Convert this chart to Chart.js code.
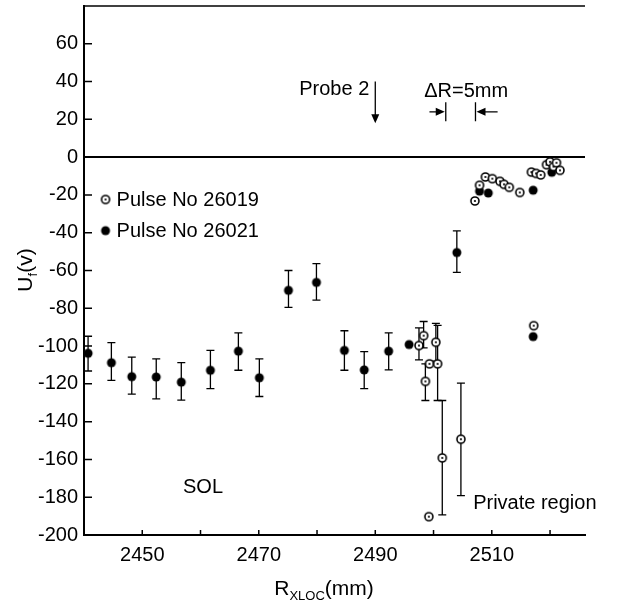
<!DOCTYPE html>
<html>
<head>
<meta charset="utf-8">
<title>Floating potential profile</title>
<script src="https://cdn.jsdelivr.net/npm/chart.js@4.4.0/dist/chart.umd.min.js"></script>
<style>
  html, body { margin: 0; padding: 0; background: #fff; }
</style>
</head>
<body>
<canvas id="potentialChart" width="618" height="601"></canvas>
<script>
// Pulse No 26019 (open markers)
const pulse26019R = [2497.5, 2498.3, 2498.6, 2499.3, 2500.4, 2500.7, 2501.5, 2504.7, 2499.2, 2517.2,
                     2507.1, 2507.9, 2508.9, 2510.1, 2511.4, 2512.1, 2513.0, 2514.8, 2516.8, 2517.6,
                     2518.4, 2519.4, 2520.0, 2520.6, 2521.1, 2521.7];
const pulse26019U = [-99.7, -94.5, -118.7, -109.4, -98.0, -109.4, -159.2, -149.3, -190.3, -89.2,
                     -23.2, -14.9, -10.5, -11.4, -12.8, -14.4, -16.0, -18.7, -7.9, -8.6,
                     -9.4, -4.0, -2.5, -5.0, -3.0, -7.0];
const pulse26019Hi = [-90.4, -87, -109.4, null, -88, -89, -128.8, -119.6, null, null,
                      null, null, null, null, null, null, null, null, null, null,
                      null, null, null, null, null, null];
const pulse26019Lo = [-107.3, -101, -128.8, null, -108, -128.8, -189.4, -179.2, null, null,
                      null, null, null, null, null, null, null, null, null, null,
                      null, null, null, null, null, null];

// Pulse No 26021 (filled markers)
const pulse26021R = [2440.7, 2444.7, 2448.2, 2452.4, 2456.7, 2461.7, 2466.5, 2470.1, 2475.1, 2479.9,
                     2484.7, 2488.1, 2492.3, 2495.8, 2504.0, 2507.9, 2509.4, 2517.1, 2517.1, 2520.3];
const pulse26021U = [-103.8, -108.8, -116.2, -116.4, -119.1, -112.8, -102.7, -116.8, -70.5, -66.3,
                     -102.3, -112.6, -102.7, -99.2, -50.5, -18.0, -19.0, -95.0, -17.5, -8.0];
const pulse26021Hi = [-94.8, -98.2, -105.9, -106.8, -108.8, -102.3, -93.0, -106.8, -60.0, -56.4,
                      -91.9, -102.9, -93.0, null, -39.0, null, null, null, null, null];
const pulse26021Lo = [-113.2, -118.2, -125.4, -127.9, -128.6, -122.5, -112.8, -126.7, -79.5, -75.7,
                      -112.8, -122.5, -112.6, null, -61.0, null, null, null, null, null];

// axis ticks
const xLabelTicks = [2450, 2470, 2490, 2510];
const yTickMax = 60;

const FONT = '"Liberation Sans", Arial, Helvetica, sans-serif';

// small canvases used as point markers
function makeMarker(filled) {
  const c = document.createElement('canvas');
  c.width = 12; c.height = 12;
  const g = c.getContext('2d');
  g.beginPath();
  g.arc(6, 6, filled ? 4.5 : 4, 0, Math.PI * 2);
  if (filled) {
    g.fillStyle = '#000';
    g.fill();
  } else {
    g.fillStyle = '#fff';
    g.fill();
    g.lineWidth = 1.6;
    g.strokeStyle = '#000';
    g.stroke();
    g.beginPath();
    g.arc(6, 6, 1.1, 0, Math.PI * 2);
    g.fillStyle = '#000';
    g.fill();
  }
  return c;
}
const openMarker = makeMarker(false);
const filledMarker = makeMarker(true);

function toPoints(xs, ys) {
  return xs.map((x, i) => ({ x: x, y: ys[i] }));
}

// text with a subscript part: [main, sub, rest]
function drawSubText(ctx, parts, x, y, size, subSize, align) {
  ctx.font = size + 'px ' + FONT;
  const w0 = ctx.measureText(parts[0]).width;
  const w2 = ctx.measureText(parts[2]).width;
  ctx.font = subSize + 'px ' + FONT;
  const w1 = ctx.measureText(parts[1]).width;
  const total = w0 + w1 + w2;
  let start = align === 'center' ? x - total / 2 : x;
  ctx.textAlign = 'left';
  ctx.textBaseline = 'alphabetic';
  ctx.font = size + 'px ' + FONT;
  ctx.fillText(parts[0], start, y);
  ctx.font = subSize + 'px ' + FONT;
  ctx.fillText(parts[1], start + w0, y + 5);
  ctx.font = size + 'px ' + FONT;
  ctx.fillText(parts[2], start + w0 + w1, y);
}

function arrowHead(ctx, x, y, dir) {
  // dir: 'down', 'left', 'right'
  ctx.beginPath();
  if (dir === 'down') {
    ctx.moveTo(x, y); ctx.lineTo(x - 4, y - 9); ctx.lineTo(x + 4, y - 9);
  } else if (dir === 'right') {
    ctx.moveTo(x, y); ctx.lineTo(x - 9, y - 4); ctx.lineTo(x - 9, y + 4);
  } else {
    ctx.moveTo(x, y); ctx.lineTo(x + 9, y - 4); ctx.lineTo(x + 9, y + 4);
  }
  ctx.closePath();
  ctx.fill();
}

const figureExtras = {
  id: 'figureExtras',
  beforeDatasetsDraw(chart) {
    const ctx = chart.ctx;
    const xs = chart.scales.x, ys = chart.scales.y;
    ctx.save();
    ctx.strokeStyle = '#000';
    ctx.lineWidth = 1.3;
    chart.data.datasets.forEach(ds => {
      ds.data.forEach((p, i) => {
        const hi = ds.errHigh[i], lo = ds.errLow[i];
        if (hi === null || lo === null) return;
        const px = xs.getPixelForValue(p.x);
        const yHi = ys.getPixelForValue(hi);
        const yLo = ys.getPixelForValue(lo);
        ctx.beginPath();
        ctx.moveTo(px, yHi); ctx.lineTo(px, yLo);
        ctx.moveTo(px - 4, yHi); ctx.lineTo(px + 4, yHi);
        ctx.moveTo(px - 4, yLo); ctx.lineTo(px + 4, yLo);
        ctx.stroke();
      });
    });
    ctx.restore();
  },
  afterDraw(chart) {
    const ctx = chart.ctx;
    const area = chart.chartArea;
    const xs = chart.scales.x, ys = chart.scales.y;
    ctx.save();
    ctx.strokeStyle = '#000';
    ctx.fillStyle = '#000';

    // frame line along the top
    ctx.lineWidth = 1.5;
    ctx.beginPath();
    ctx.moveTo(area.left, area.top);
    ctx.lineTo(area.right, area.top);
    ctx.stroke();

    // inward tick marks
    ctx.lineWidth = 1.5;
    ctx.beginPath();
    for (let v = -200; v <= yTickMax; v += 20) {
      const py = ys.getPixelForValue(v);
      ctx.moveTo(area.left, py);
      ctx.lineTo(area.left + 8, py);
    }
    for (let v = 2450; v <= 2520; v += 10) {
      const px = xs.getPixelForValue(v);
      ctx.moveTo(px, area.bottom);
      ctx.lineTo(px, area.bottom - 5);
    }
    ctx.stroke();

    // Probe 2 marker
    const probeX = xs.getPixelForValue(2490);
    ctx.font = '20px ' + FONT;
    ctx.textAlign = 'right';
    ctx.textBaseline = 'alphabetic';
    ctx.fillText('Probe 2', probeX - 6, ys.getPixelForValue(33));
    ctx.lineWidth = 1.3;
    ctx.beginPath();
    ctx.moveTo(probeX, ys.getPixelForValue(40));
    ctx.lineTo(probeX, ys.getPixelForValue(20));
    ctx.stroke();
    arrowHead(ctx, probeX, ys.getPixelForValue(18), 'down');

    // ΔR=5mm gap
    ctx.textAlign = 'center';
    ctx.fillText('ΔR=5mm', xs.getPixelForValue(2505.6), ys.getPixelForValue(32));
    const arrowY = ys.getPixelForValue(24);
    const barA = xs.getPixelForValue(2502.1), barB = xs.getPixelForValue(2507.2);
    ctx.beginPath();
    ctx.moveTo(barA, ys.getPixelForValue(29)); ctx.lineTo(barA, ys.getPixelForValue(19));
    ctx.moveTo(barB, ys.getPixelForValue(29)); ctx.lineTo(barB, ys.getPixelForValue(19));
    ctx.moveTo(xs.getPixelForValue(2499.3), arrowY); ctx.lineTo(barA - 6, arrowY);
    ctx.moveTo(xs.getPixelForValue(2511), arrowY); ctx.lineTo(barB + 6, arrowY);
    ctx.stroke();
    arrowHead(ctx, barA - 1, arrowY, 'right');
    arrowHead(ctx, barB + 1, arrowY, 'left');

    // region labels
    ctx.textAlign = 'left';
    ctx.fillText('SOL', xs.getPixelForValue(2457), ys.getPixelForValue(-178));
    ctx.fillText('Private region', xs.getPixelForValue(2506.8), ys.getPixelForValue(-186));

    // legend
    const legendX = xs.getPixelForValue(2443.7);
    [[openMarker, 'Pulse No 26019', -22.4], [filledMarker, 'Pulse No 26021', -38.9]].forEach(row => {
      const py = ys.getPixelForValue(row[2]);
      ctx.drawImage(row[0], legendX - 6, py - 6);
      ctx.textBaseline = 'middle';
      ctx.fillText(row[1], legendX + 11, py + 1);
    });

    // axis titles
    ctx.save();
    ctx.translate(32, 270);
    ctx.rotate(-Math.PI / 2);
    drawSubText(ctx, ['U', 'f', '(v)'], 0, 0, 21, 13, 'center');
    ctx.restore();
    drawSubText(ctx, ['R', 'XLOC', '(mm)'], 324, 595, 21, 13, 'center');

    ctx.restore();
  }
};

const ctx = document.getElementById('potentialChart').getContext('2d');
new Chart(ctx, {
  type: 'scatter',
  data: {
    datasets: [{
      label: 'Pulse No 26019',
      data: toPoints(pulse26019R, pulse26019U),
      errHigh: pulse26019Hi,
      errLow: pulse26019Lo,
      pointStyle: openMarker,
      pointRadius: 5,
      pointHoverRadius: 5
    }, {
      label: 'Pulse No 26021',
      data: toPoints(pulse26021R, pulse26021U),
      errHigh: pulse26021Hi,
      errLow: pulse26021Lo,
      pointStyle: filledMarker,
      pointRadius: 5,
      pointHoverRadius: 5
    }]
  },
  options: {
    responsive: false,
    animation: false,
    layout: { padding: { top: 5, right: 33, left: 0, bottom: 0 } },
    plugins: {
      legend: { display: false },
      tooltip: { enabled: false }
    },
    scales: {
      x: {
        type: 'linear',
        min: 2440,
        max: 2526,
        afterFit(scale) {
          scale.height = 66;
          scale.paddingLeft = 0;
          scale.paddingRight = 0;
        },
        grid: { display: false, drawTicks: false },
        border: { color: '#000', width: 2 },
        ticks: {
          stepSize: 10,
          includeBounds: false,
          autoSkip: false,
          maxRotation: 0,
          padding: 8,
          color: '#000',
          font: { family: FONT, size: 20 },
          callback: v => xLabelTicks.includes(v) ? String(v) : ''
        }
      },
      y: {
        min: -200,
        max: 80,
        afterFit(scale) {
          scale.width = 84;
          scale.paddingTop = 0;
          scale.paddingBottom = 0;
        },
        grid: {
          drawTicks: false,
          lineWidth: 2,
          color: c => (c.tick && c.tick.value === 0) ? '#000' : 'rgba(0,0,0,0)'
        },
        border: { color: '#000', width: 2 },
        ticks: {
          stepSize: 20,
          padding: 6,
          color: '#000',
          font: { family: FONT, size: 20 },
          callback: v => v > yTickMax ? '' : String(v)
        }
      }
    }
  },
  plugins: [figureExtras]
});
</script>
</body>
</html>
